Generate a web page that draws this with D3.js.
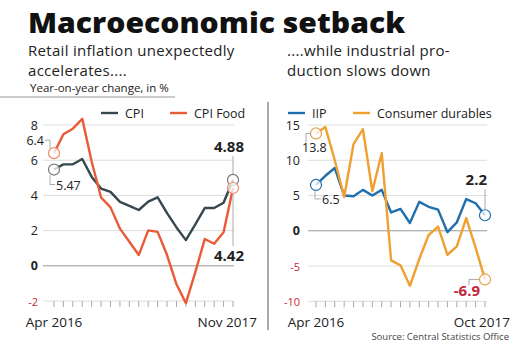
<!DOCTYPE html>
<html lang="en">
<head>
    <meta charset="UTF-8">
    <title>Macroeconomic setback</title>
    <script src="https://d3js.org/d3.v7.min.js"></script>
    <style>
        body { margin: 0; background: #fff; }
        svg { display: block; font-family: "Open Sans", sans-serif; }
    </style>
</head>
<body>
<svg width="510" height="343"></svg>
<script>
    // data
    const monthsLeft = ["Apr 2016", "May 2016", "Jun 2016", "Jul 2016", "Aug 2016", "Sep 2016", "Oct 2016",
        "Nov 2016", "Dec 2016", "Jan 2017", "Feb 2017", "Mar 2017", "Apr 2017", "May 2017", "Jun 2017",
        "Jul 2017", "Aug 2017", "Sep 2017", "Oct 2017", "Nov 2017"];
    const cpi = [5.47, 5.76, 5.77, 6.07, 5.05, 4.39, 4.20, 3.63, 3.41, 3.17, 3.65, 3.89, 2.99, 2.18, 1.46, 2.36, 3.28, 3.28, 3.58, 4.88];
    const cpiFood = [6.4, 7.47, 7.79, 8.35, 5.91, 3.88, 3.32, 2.11, 1.37, 0.61, 2.01, 1.93, 0.61, -1.05, -2.12, -0.36, 1.52, 1.25, 1.90, 4.42];
    const leftTicks = [-2, 0, 2, 4, 6, 8];

    const monthsRight = monthsLeft.slice(0, 19);
    const iip = [6.5, 7.8, 8.9, 5.0, 4.9, 5.8, 5.0, 5.8, 2.6, 3.1, 1.1, 4.1, 3.4, 3.0, -0.2, 1.2, 4.5, 3.9, 2.2];
    const durables = [13.8, 14.7, 10.0, 4.8, 12.3, 14.4, 5.6, 11.0, -4.2, -4.9, -7.8, -4.0, -0.6, 0.6, -3.4, -2.2, 1.8, -2.4, -6.9];
    const rightTicks = [-10, -5, 0, 5, 10, 15];

    const svg = d3.select("svg");

    // header
    svg.append("text").attr("x", 28).attr("y", 33)
        .attr("font-size", 28).attr("font-weight", 800).attr("fill", "#111")
        .attr("textLength", 377).attr("lengthAdjust", "spacingAndGlyphs")
        .text("Macroeconomic setback");
    const sub = [["Retail inflation unexpectedly", 28, 56], ["accelerates....", 28, 76],
        ["....while industrial pro-", 287, 56], ["duction slows down", 287, 76]];
    sub.forEach(s => svg.append("text").attr("x", s[1]).attr("y", s[2])
        .attr("font-size", 15).attr("letter-spacing", 0.3).attr("fill", "#222").text(s[0]));
    svg.append("text").attr("x", 30).attr("y", 92).attr("font-size", 11.5).attr("fill", "#222")
        .text("Year-on-year change, in %");
    svg.append("line").attr("x1", 0).attr("x2", 175).attr("y1", 97).attr("y2", 97)
        .attr("stroke", "#999").attr("stroke-width", 1);
    svg.append("line").attr("x1", 268).attr("x2", 268).attr("y1", 102).attr("y2", 330)
        .attr("stroke", "#555").attr("stroke-width", 1);
    svg.append("text").attr("x", 509).attr("y", 340).attr("text-anchor", "end")
        .attr("font-size", 9.5).attr("fill", "#444").text("Source: Central Statistics Office");

    function panel(cfg) {
        const g = svg.append("g");
        const x = d3.scaleLinear().domain([0, cfg.months.length - 1]).range(cfg.xr);
        const y = d3.scaleLinear().domain(d3.extent(cfg.ticks)).range(cfg.yr);

        // grid
        g.selectAll(".grid").data(cfg.ticks).enter().append("line")
            .attr("x1", cfg.gx[0]).attr("x2", cfg.gx[1])
            .attr("y1", d => y(d)).attr("y2", d => y(d))
            .attr("stroke", d => d === 0 ? "#999" : "#ddd").attr("stroke-width", 1);
        g.selectAll(".ylab").data(cfg.ticks).enter().append("text")
            .attr("x", cfg.labX).attr("y", d => y(d) + 4.5)
            .attr("text-anchor", "end")
            .attr("font-size", d => d < 0 ? 11 : 12.5)
            .attr("font-weight", d => d === 0 ? 700 : 400)
            .attr("fill", d => d < 0 ? "#c8283c" : "#222")
            .text(d => d);

        // month ticks
        const base = y(cfg.ticks[0]);
        g.selectAll(".tick").data(cfg.months).enter().append("line")
            .attr("x1", (d, i) => x(i)).attr("x2", (d, i) => x(i))
            .attr("y1", base).attr("y2", base + 6)
            .attr("stroke", "#aaa").attr("stroke-width", 1);
        const last = cfg.months.length - 1;
        g.append("text").attr("x", x(0)).attr("y", 327).attr("text-anchor", "middle")
            .attr("font-size", 13.5).attr("fill", "#222").text(cfg.months[0]);
        g.append("text").attr("x", x(last) + cfg.lastDx).attr("y", 327).attr("text-anchor", "end")
            .attr("font-size", 13.5).attr("fill", "#222").text(cfg.months[last]);

        // lines
        const line = d3.line().x((d, i) => x(i)).y(d => y(d));
        cfg.series.forEach(s => {
            g.append("path").datum(s.values).attr("d", line)
                .attr("fill", "none").attr("stroke", s.color)
                .attr("stroke-width", 2.4).attr("stroke-linejoin", "round");
        });

        // legend
        cfg.series.forEach(s => {
            g.append("line").attr("x1", s.lx).attr("x2", s.lx + 17)
                .attr("y1", 113).attr("y2", 113).attr("stroke", s.color).attr("stroke-width", 2.4);
            g.append("text").attr("x", s.lx + 24).attr("y", 117.5)
                .attr("font-size", 12.5).attr("fill", "#222").text(s.name);
        });

        // annotations: circles at ends plus labels with leader lines
        cfg.series.forEach(s => {
            [0, last].forEach(i => {
                g.append("circle").attr("cx", x(i)).attr("cy", y(s.values[i])).attr("r", 5.5)
                    .attr("fill", "rgba(255,255,255,0.75)").attr("stroke", s.circle).attr("stroke-width", 1.2);
            });
        });
        cfg.notes.forEach(n => {
            const s = cfg.series[n.s];
            const i = n.end ? last : 0;
            const cx = x(i), cy = y(s.values[i]);
            g.append("path").attr("d", n.leader(cx, cy))
                .attr("fill", "none").attr("stroke", "#aaa").attr("stroke-width", 1);
            g.append("text").attr("x", cx + n.dx).attr("y", cy + n.dy)
                .attr("text-anchor", n.anchor)
                .attr("font-size", n.bold ? 15 : 12.5).attr("font-weight", n.bold ? 700 : 400)
                .attr("fill", n.red ? "#c0283a" : "#222").text(n.text);
        });
        return g;
    }

    panel({
        months: monthsLeft, ticks: leftTicks,
        xr: [54, 233], yr: [301, 125], gx: [43, 234], labX: 38, lastDx: 24,
        series: [
            {name: "CPI", values: cpi, color: "#36474f", circle: "#777", lx: 101},
            {name: "CPI Food", values: cpiFood, color: "#e95b36", circle: "#f08a6c", lx: 170}
        ],
        notes: [
            {s: 1, end: false, text: "6.4", dx: -10, dy: -8, anchor: "end", leader: (cx, cy) => `M${cx - 9},${cy - 13}H${cx - 4}V${cy - 5}`},
            {s: 0, end: false, text: "5.47", dx: 2, dy: 20, anchor: "start", leader: (cx, cy) => `M${cx - 4},${cy + 5}V${cy + 15}H${cx + 1}`},
            {s: 0, end: true, text: "4.88", dx: 11, dy: -28, anchor: "end", bold: true, leader: (cx, cy) => `M${cx},${cy - 24}V${cy - 6}`},
            {s: 1, end: true, text: "4.42", dx: 11, dy: 73, anchor: "end", bold: true, leader: (cx, cy) => `M${cx},${cy + 6}V${cy + 58}`}
        ]
    });

    panel({
        months: monthsRight, ticks: rightTicks,
        xr: [316, 485], yr: [301.3, 125], gx: [308, 487], labX: 300, lastDx: 25,
        series: [
            {name: "IIP", values: iip, color: "#1f6fad", circle: "#1f6fad", lx: 288},
            {name: "Consumer durables", values: durables, color: "#f0a030", circle: "#e0a050", lx: 353}
        ],
        notes: [
            {s: 1, end: false, text: "13.8", dx: -14, dy: 19, anchor: "start", leader: (cx, cy) => `M${cx - 5},${cy}H${cx - 10}V${cy + 9}`},
            {s: 0, end: false, text: "6.5", dx: 6, dy: 19, anchor: "start", leader: (cx, cy) => `M${cx - 1},${cy + 6}V${cy + 14}H${cx + 5}`},
            {s: 0, end: true, text: "2.2", dx: 2, dy: -30, anchor: "end", bold: true, leader: (cx, cy) => `M${cx},${cy - 26}V${cy - 6}`},
            {s: 1, end: true, text: "-6.9", dx: -5, dy: 17, anchor: "end", bold: true, red: true, leader: (cx, cy) => `M${cx - 6},${cy}H${cx - 16}V${cy + 6}`}
        ]
    });
</script>
</body>
</html>
